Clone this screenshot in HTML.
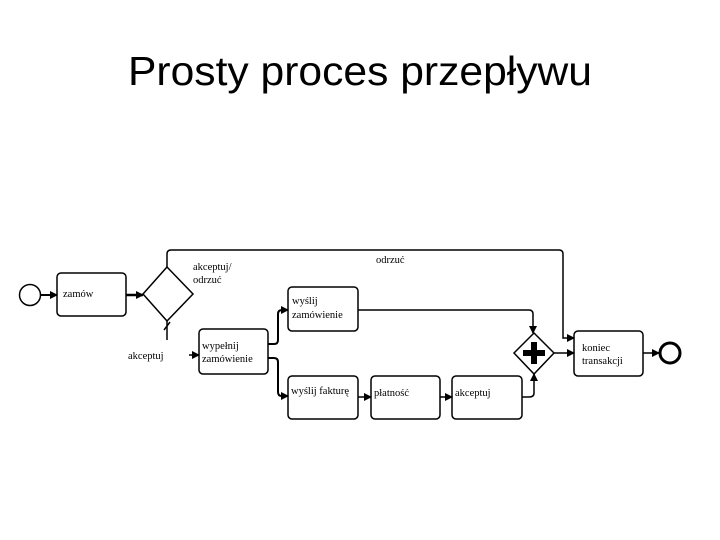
<!DOCTYPE html>
<html><head><meta charset="utf-8"><style>body{margin:0;background:#fff}svg{display:block}</style></head><body>
<svg width="720" height="540" xmlns="http://www.w3.org/2000/svg" font-family="Liberation Serif, serif">
<defs><marker id="a" markerWidth="8" markerHeight="8" refX="7" refY="4" orient="auto" markerUnits="userSpaceOnUse"><path d="M0,0 L8,4 L0,8Z" fill="#000"/></marker></defs>
<text x="128" y="85" font-family="Liberation Sans, sans-serif" font-size="41" textLength="464" lengthAdjust="spacingAndGlyphs">Prosty proces przepływu</text>
<g fill="none" stroke="#000" stroke-width="1.5">
<circle cx="30" cy="295" r="10.5"/>
<line x1="41" y1="295" x2="57" y2="295" stroke-width="2" marker-end="url(#a)"/>
<rect x="57" y="273" width="69" height="43" rx="4"/>
<line x1="126" y1="295" x2="143" y2="295" stroke-width="2.5" marker-end="url(#a)"/>
<path d="M167,267 L193,294 L167,321 L143,294Z"/>
<path d="M167,267 V254 Q167,250 171,250 H559 Q563,250 563,254 V338 H574" marker-end="url(#a)"/>
<path d="M167,321 V340"/>
<path d="M164,330 L170,322"/>
<line x1="189" y1="355" x2="199" y2="355" marker-end="url(#a)"/>
<rect x="199" y="329" width="69" height="45" rx="4"/>
<path d="M268,344 H274 Q278,344 278,340 V314 Q278,310 282,310 H288" stroke-width="2" marker-end="url(#a)"/>
<path d="M268,358 H274 Q278,358 278,362 V392 Q278,396 282,396 H288" stroke-width="2" marker-end="url(#a)"/>
<rect x="288" y="287" width="70" height="44" rx="4"/>
<rect x="288" y="376" width="70" height="43" rx="4"/>
<line x1="358" y1="397" x2="371" y2="397" marker-end="url(#a)"/>
<rect x="371" y="376" width="69" height="43" rx="4"/>
<line x1="440" y1="397" x2="452" y2="397" marker-end="url(#a)"/>
<rect x="452" y="376" width="70" height="43" rx="4"/>
<path d="M358,310 H529 Q533,310 533,314 V333" marker-end="url(#a)"/>
<path d="M522,397 H529 Q534,397 534,393 V374" marker-end="url(#a)"/>
<path d="M534,333 L554,353 L534,374 L514,353Z"/>
<line x1="554" y1="353" x2="574" y2="353" marker-end="url(#a)"/>
<rect x="574" y="331" width="69" height="45" rx="4"/>
<line x1="643" y1="353" x2="659" y2="353" marker-end="url(#a)"/>
<circle cx="670" cy="353" r="10" stroke-width="3"/>
</g>
<path d="M531,342h6v8h8v6h-8v8h-6v-8h-8v-6h8z" fill="#000"/>
<g font-size="10.5" fill="#000">
<text x="63" y="297">zamów</text>
<text x="193" y="270">akceptuj/</text>
<text x="193" y="283">odrzuć</text>
<text x="376" y="263">odrzuć</text>
<text x="128" y="359">akceptuj</text>
<text x="202" y="349">wypełnij</text>
<text x="202" y="362">zamówienie</text>
<text x="292" y="304">wyślij</text>
<text x="292" y="318">zamówienie</text>
<text x="291" y="394">wyślij fakturę</text>
<text x="374" y="396">płatność</text>
<text x="455" y="396">akceptuj</text>
<text x="582" y="351">koniec</text>
<text x="582" y="364">transakcji</text>
</g>
</svg>
</body></html>
